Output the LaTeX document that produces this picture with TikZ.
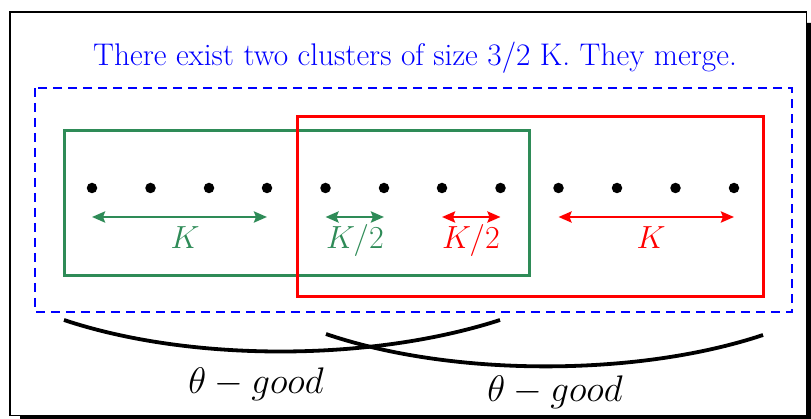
\RequirePackage{fix-cm}
\documentclass[tikz,border=0pt]{standalone}
\usetikzlibrary{arrows.meta}
\definecolor{sgreen}{RGB}{46,139,87}
\begin{document}
\begin{tikzpicture}[x=1pt,y=-1pt,
  dot/.style={circle,fill=black,inner sep=0pt,minimum size=10.5pt},
  grn/.style={draw=sgreen,line width=3pt},
  rd/.style={draw=red,line width=3pt},
  twoarrow/.style={line width=2.8pt,{Stealth[length=13pt,width=11pt,inset=2pt]}-{Stealth[length=13pt,width=11pt,inset=2pt]}},
  klabel/.style={anchor=base,inner sep=0pt,font=\fontsize{32}{36}\selectfont},
  glabel/.style={anchor=base,inner sep=0pt,font=\fontsize{37}{40}\selectfont},
  arcline/.style={line width=3.8pt,black}]
\useasboundingbox (0,0) rectangle (811,419);
% frame with shadow
\fill[black] (806,23) -- (811,23) -- (811,419) -- (20,419) -- (20,415.5) -- (806,415.5) -- cycle;
\draw[line width=1.5pt] (10,12) rectangle (806.5,415.5);
% title
\node[anchor=base,inner sep=0pt,text=blue,font=\fontsize{31.3}{36}\selectfont] (title) at (415,66)
  {There exist two clusters of size 3/2 K. They merge.};
% dashed box
\draw[blue,line width=2pt,dash pattern=on 9pt off 6pt] (35,88) rectangle (792,312);
% cluster boxes
\draw[grn] (64,131) rectangle (529,276);
\draw[rd] (297,117) rectangle (763,297);
% dots
\foreach \i/\x in {1/92,2/150.5,3/209,4/267,5/325.5,6/384,7/442,8/500.5,9/558.5,10/617,11/675.5,12/734}{
  \node[dot] (d\i) at (\x,188) {};
  \coordinate (a\i) at (\x,217);
}
% arrows
\draw[twoarrow,sgreen] (a1) -- (a4);
\draw[twoarrow,sgreen] (a5) -- (a6);
\draw[twoarrow,red] (a7) -- (a8);
\draw[twoarrow,red] (a9) -- (a12);
\node[klabel,text=sgreen] (k1) at (185,249) {$K$};
\node[klabel,text=sgreen] (k2) at (355,249) {$K/2$};
\node[klabel,text=red] (k3) at (471,249) {$K/2$};
\node[klabel,text=red] (k4) at (651,249) {$K$};
% arcs
\coordinate (l1) at (64,320); \coordinate (l2) at (500,320);
\coordinate (r1) at (326,334); \coordinate (r2) at (763,335);
\draw[arcline] (l1) .. controls (190,362) and (370,362) .. (l2);
\draw[arcline] (r1) .. controls (452,377) and (637,377) .. (r2);
\node[glabel] (g1) at (256,393) {$\theta - good$};
\node[glabel] (g2) at (555,402) {$\theta - good$};
\end{tikzpicture}
\end{document}
